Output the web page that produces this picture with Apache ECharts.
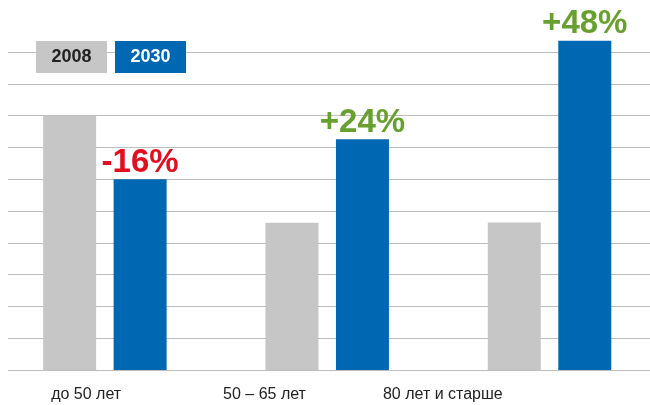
<!DOCTYPE html>
<html>
<head>
<meta charset="utf-8">
<script src="https://cdn.jsdelivr.net/npm/echarts@6/dist/echarts.min.js"></script>
<style>html,body{margin:0;padding:0;background:#fff}#c{width:650px;height:405px}</style>
</head>
<body>
<div id="c"></div>
<script>
const categories = ['до 50 лет', '50 – 65 лет', '80 лет и старше'];
const values2008 = [8.0, 4.63, 4.64];
const values2030 = [6.0, 7.26, 10.35];
const changeLabels = ['-16%', '+24%', '+48%'];
const yTicks = [0, 1, 2, 3, 4, 5, 6, 7, 8, 9, 10];

const GRAY = '#c6c6c6', BLUE = '#0068b3', RED = '#e2101f', GREEN = '#68a030';

const chart = echarts.init(document.getElementById('c'), null, {renderer: 'canvas'});
const yMax = yTicks[yTicks.length - 1];
const hiddenY = (gi) => ({type: 'value', gridIndex: gi, min: 0, max: yMax, interval: 1, show: false, splitLine: {show: false}});
const boxStyle = {width: 71, height: 32, lineHeight: 32, align: 'center', verticalAlign: 'middle', fontSize: 18, fontWeight: 'bold'};

chart.setOption({
  animation: false,
  textStyle: {fontFamily: 'Liberation Sans, Arial, sans-serif'},
  legend: {
    left: 31, top: 41, padding: 0, itemGap: 3, itemWidth: 0, itemHeight: 0, icon: 'none',
    selectedMode: false,
    data: ['2008', '2030'],
    formatter: (name) => name === '2008' ? `{g|${name}}` : `{b|${name}}`,
    textStyle: {
      rich: {
        g: Object.assign({backgroundColor: GRAY, color: '#222'}, boxStyle),
        b: Object.assign({backgroundColor: BLUE, color: '#fff'}, boxStyle)
      }
    }
  },
  grid: [
    {left: 8, right: 0, top: 52, bottom: 35, outerBoundsMode: 'none'},
    {left: -6.3, width: 667, top: 52, bottom: 35, outerBoundsMode: 'none'},
    {left: -3, width: 535, top: 52, bottom: 35, outerBoundsMode: 'none'}
  ],
  xAxis: [
    {type: 'category', gridIndex: 0, data: categories, show: false},
    {type: 'category', gridIndex: 1, data: categories, show: false},
    {type: 'category', gridIndex: 2, data: categories,
     axisLine: {show: false}, axisTick: {show: false},
     axisLabel: {interval: 0, fontSize: 16, color: '#222', margin: 17}}
  ],
  yAxis: [
    {type: 'value', gridIndex: 0, min: 0, max: yMax, interval: 1,
     axisLine: {show: false}, axisTick: {show: false}, axisLabel: {show: false},
     splitLine: {show: true, lineStyle: {color: '#bdbdbd', width: 1}}},
    hiddenY(1), hiddenY(2)
  ],
  series: [
    {name: '2008', type: 'bar', xAxisIndex: 1, yAxisIndex: 1, data: values2008,
     barWidth: 53, barGap: '33%', clip: false, itemStyle: {color: GRAY}},
    {name: '2030', type: 'bar', xAxisIndex: 1, yAxisIndex: 1, clip: false, barWidth: 53, barGap: '33%',
     itemStyle: {color: BLUE},
     data: values2030.map((v, i) => ({
       value: v,
       label: {show: true, position: 'top', distance: 0, formatter: changeLabels[i],
               fontSize: 33, fontWeight: 'bold', lineHeight: 33,
               color: changeLabels[i].startsWith('-') ? RED : GREEN}
     }))}
  ]
});
</script>
</body>
</html>
